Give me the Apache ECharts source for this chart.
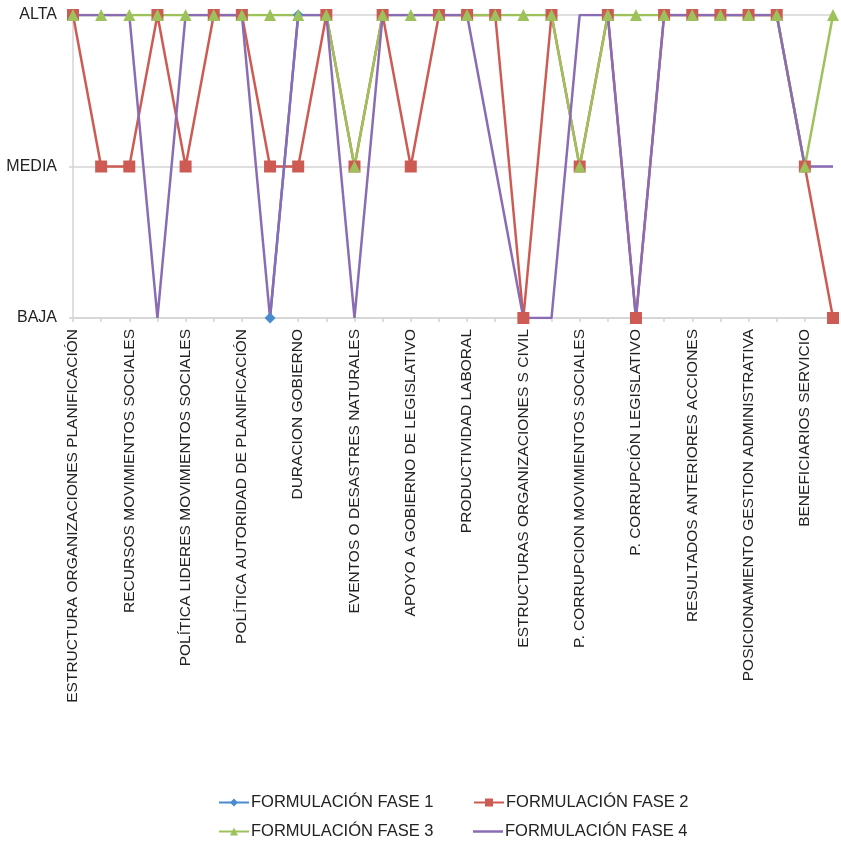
<!DOCTYPE html>
<html>
<head>
<meta charset="utf-8">
<script src="https://cdn.jsdelivr.net/npm/echarts@6/dist/echarts.min.js"></script>
<style>
html,body{margin:0;padding:0;background:#fff;}
#chart{width:841px;height:854px;}
</style>
</head>
<body>
<div id="chart"></div>
<script>
// Categories (odd positions carry no visible label in the reference)
var categories = [
  'ESTRUCTURA ORGANIZACIONES PLANIFICACIÓN', '',
  'RECURSOS MOVIMIENTOS SOCIALES', '',
  'POLÍTICA LIDERES MOVIMIENTOS SOCIALES', '',
  'POLÍTICA AUTORIDAD DE PLANIFICACIÓN', '',
  'DURACION GOBIERNO', '',
  'EVENTOS O DESASTRES NATURALES', '',
  'APOYO A GOBIERNO DE LEGISLATIVO', '',
  'PRODUCTIVIDAD LABORAL', '',
  'ESTRUCTURAS ORGANIZACIONES S CIVIL', '',
  'P. CORRUPCION MOVIMIENTOS SOCIALES', '',
  'P. CORRUPCIÓN LEGISLATIVO', '',
  'RESULTADOS ANTERIORES ACCIONES', '',
  'POSICIONAMIENTO GESTION ADMINISTRATIVA', '',
  'BENEFICIARIOS SERVICIO', ''
];

// Y tick labels (ordered from bottom to top)
var levels = ['BAJA', 'MEDIA', 'ALTA'];

var seriesNames = ['FORMULACIÓN FASE 1', 'FORMULACIÓN FASE 2', 'FORMULACIÓN FASE 3', 'FORMULACIÓN FASE 4'];

var fase1 = [null,null,null,null,null,null,null,'BAJA','ALTA',null,null,null,null,null,
             null,null,null,null,null,null,null,null,null,null,null,null,null,null];
var fase2 = ['ALTA','MEDIA','MEDIA','ALTA','MEDIA','ALTA','ALTA','MEDIA','MEDIA','ALTA','MEDIA','ALTA','MEDIA','ALTA',
             'ALTA','ALTA','BAJA','ALTA','MEDIA','ALTA','BAJA','ALTA','ALTA','ALTA','ALTA','ALTA','MEDIA','BAJA'];
var fase3 = ['ALTA','ALTA','ALTA','ALTA','ALTA','ALTA','ALTA','ALTA','ALTA','ALTA','MEDIA','ALTA','ALTA','ALTA',
             'ALTA','ALTA','ALTA','ALTA','MEDIA','ALTA','ALTA','ALTA','ALTA','ALTA','ALTA','ALTA','MEDIA','ALTA'];
var fase4 = ['ALTA','ALTA','ALTA','BAJA','ALTA','ALTA','ALTA','BAJA','ALTA','ALTA','BAJA','ALTA','ALTA','ALTA',
             'ALTA','MEDIA','BAJA','BAJA','ALTA','ALTA','BAJA','ALTA','ALTA','ALTA','ALTA','ALTA','MEDIA','MEDIA'];

function toIdx(arr){ return arr.map(function(v){ return v === null ? null : levels.indexOf(v); }); }

var FONT = '"Liberation Sans", Arial, Helvetica, sans-serif';
var colors = ['#4A8BD0', '#CD5B53', '#9DC25C', '#8A6CB4'];

var chart = echarts.init(document.getElementById('chart'), null, {renderer: 'canvas'});

function legendAt(item, left, top, itemHeight){
  return {
    data: [item], left: left, top: top, orient: 'horizontal',
    itemWidth: 30, itemHeight: itemHeight || 10, itemGap: 0,
    textStyle: {fontFamily: FONT, fontSize: 16.5, color: '#222', padding: [0,0,0,-3]},
    padding: 0
  };
}

chart.setOption({
  animation: false,
  color: colors,
  grid: {left: 73, right: 8, top: 15, bottom: 854 - 318, containLabel: false},
  legend: [
    legendAt(seriesNames[0], 218, 794),
    legendAt(seriesNames[1], 473, 794),
    legendAt(seriesNames[2], 218, 823),
    legendAt({name: seriesNames[3], icon: 'rect', itemStyle: {color: colors[3]}}, 473, 823, 2.5)
  ],
  xAxis: {
    type: 'category',
    data: categories,
    boundaryGap: false,
    axisLine: {lineStyle: {color: '#D4D4D4', width: 1.5}},
    axisTick: {show: true, interval: 0, length: 4, lineStyle: {color: '#D4D4D4', width: 1.5}},
    axisLabel: {interval: 1, rotate: 90, margin: 11, fontFamily: FONT, fontSize: 15.5, color: '#222'},
    splitLine: {show: false}
  },
  yAxis: {
    type: 'value',
    min: 0, max: 2, interval: 1,
    axisLine: {show: true, lineStyle: {color: '#D4D4D4', width: 1.5}},
    axisTick: {show: true, length: 4, lineStyle: {color: '#D4D4D4', width: 1.5}},
    axisLabel: {margin: 16, fontFamily: FONT, fontSize: 16, color: '#222',
      formatter: function(v){ return levels[v] || ''; }},
    splitLine: {show: true, lineStyle: {color: '#D4D4D4', width: 1.5}}
  },
  series: [
    {name: seriesNames[0], type: 'line', data: toIdx(fase1), symbol: 'diamond', symbolSize: 11,
     lineStyle: {width: 2.5}, itemStyle: {color: colors[0]}, connectNulls: false, z: 2},
    {name: seriesNames[1], type: 'line', data: toIdx(fase2), symbol: 'rect', symbolSize: 12,
     lineStyle: {width: 2.5}, itemStyle: {color: colors[1]}, z: 2},
    {name: seriesNames[2], type: 'line', data: toIdx(fase3), symbol: 'triangle', symbolSize: 12,
     lineStyle: {width: 2.5}, itemStyle: {color: colors[2]}, z: 2},
    {name: seriesNames[3], type: 'line', data: toIdx(fase4), symbol: 'none',
     lineStyle: {width: 2.5}, itemStyle: {color: colors[3]}, z: 2}
  ]
});
</script>
</body>
</html>
